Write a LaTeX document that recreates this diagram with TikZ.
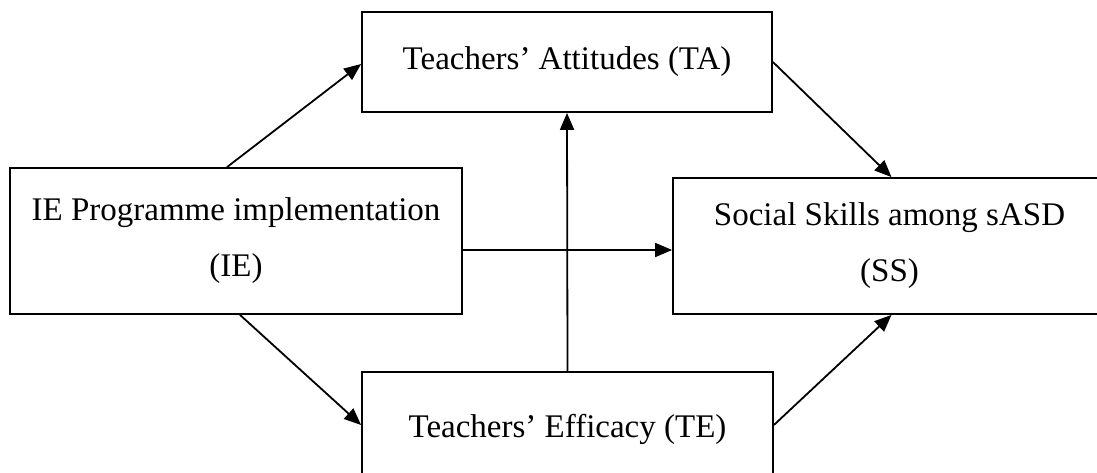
\documentclass[tikz,border=0pt]{standalone}
\usepackage{fontspec}
\setmainfont{Liberation Serif}
\usetikzlibrary{arrows.meta,calc}
\begin{document}
\begin{tikzpicture}[x=1pt,y=-1pt,
  box/.style={draw,line width=1.8pt,rectangle,inner sep=0pt,align=center,
    font=\fontsize{33}{56}\selectfont},
  conn/.style={line width=1.8pt,-{Triangle[length=17pt,width=14pt]}}]
\useasboundingbox (0,0) rectangle (1097,472);
\clip (0,0) rectangle (1097,472);
\node[box,minimum width=410pt,minimum height=100pt] (TA) at (567,62) {Teachers’ Attitudes (TA)};
\node[box,minimum width=452pt,minimum height=146pt] (IE) at (236,241) {IE Programme implementation\\(IE)};
\node[box,minimum width=433pt,minimum height=136pt] (SS) at (889.5,246) {Social Skills among sASD\\(SS)};
\node[box,minimum width=411pt,minimum height=114pt] (TE) at (567.5,429) {Teachers’ Efficacy (TE)};
\coordinate (ssin) at ([yshift=-4pt]SS.west);
\draw[conn] ([xshift=-9pt]IE.north) -- ([yshift=-2pt]TA.west);
\draw[conn] ([xshift=4pt]IE.south) -- ([yshift=4pt]TE.west);
\draw[conn] (IE.east |- ssin) -- (ssin);
\draw[conn] (TE.north) -- (TA.south);
\draw[conn] (TA.east) -- ([xshift=2pt]SS.north);
\draw[conn] ([yshift=4pt]TE.east) -- ([xshift=2pt]SS.south);
\end{tikzpicture}
\end{document}
